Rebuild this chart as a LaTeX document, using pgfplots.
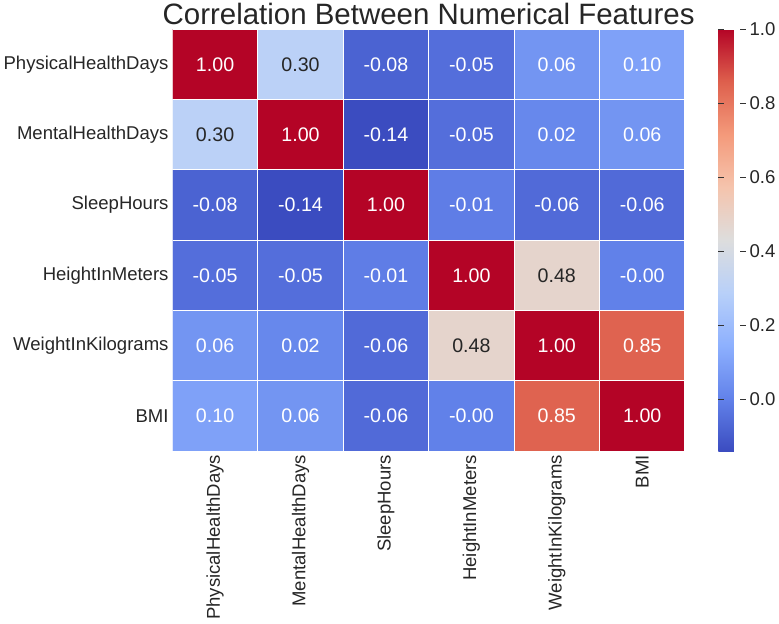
\documentclass[border=0pt]{standalone}
\usepackage{pgfplots}
\pgfplotsset{compat=1.18}
\usepackage{fontspec}
\setmainfont{Liberation Sans}
\pgfplotstableread{
x y v
0 0 1.00
1 0 0.30
2 0 -0.08
3 0 -0.05
4 0 0.06
5 0 0.10
0 1 0.30
1 1 1.00
2 1 -0.14
3 1 -0.05
4 1 0.02
5 1 0.06
0 2 -0.08
1 2 -0.14
2 2 1.00
3 2 -0.01
4 2 -0.06
5 2 -0.06
0 3 -0.05
1 3 -0.05
2 3 -0.01
3 3 1.00
4 3 0.48
5 3 -0.00
0 4 0.06
1 4 0.02
2 4 -0.06
3 4 0.48
4 4 1.00
5 4 0.85
0 5 0.10
1 5 0.06
2 5 -0.06
3 5 -0.00
4 5 0.85
5 5 1.00
}\data
\pgfplotstableread{
x y t
1 0 0.30
0 1 0.30
4 3 0.48
3 4 0.48
}\dark
\pgfplotstableread{
x y t
0 0 1.00
2 0 -0.08
3 0 -0.05
4 0 0.06
5 0 0.10
1 1 1.00
2 1 -0.14
3 1 -0.05
4 1 0.02
5 1 0.06
0 2 -0.08
1 2 -0.14
2 2 1.00
3 2 -0.01
4 2 -0.06
5 2 -0.06
0 3 -0.05
1 3 -0.05
2 3 -0.01
3 3 1.00
5 3 -0.00
0 4 0.06
1 4 0.02
2 4 -0.06
4 4 1.00
5 4 0.85
0 5 0.10
1 5 0.06
2 5 -0.06
3 5 -0.00
4 5 0.85
5 5 1.00
}\light
\begin{document}
\begin{tikzpicture}
\begin{axis}[
  scale only axis, width=470pt, height=387pt,
  y dir=reverse,
  xmin=-0.5, xmax=5.5, ymin=-0.5, ymax=5.5,
  xtick={0,...,5}, ytick={0,...,5},
  xticklabels={PhysicalHealthDays,MentalHealthDays,SleepHours,HeightInMeters,WeightInKilograms,BMI},
  yticklabels={PhysicalHealthDays,MentalHealthDays,SleepHours,HeightInMeters,WeightInKilograms,BMI},
  x tick label style={rotate=90, anchor=east},
  tick style={draw=none}, axis line style={draw=none},
  ticklabel style={font=\fontsize{17}{20}\selectfont, text=black!85},
  title={Correlation Between Numerical Features},
  title style={font=\fontsize{27}{30}\selectfont, yshift=-6pt, text=black!85},
  colormap={coolwarm}{rgb255(0)=(59,76,192) rgb255(1)=(98,130,234) rgb255(2)=(141,176,254) rgb255(3)=(184,208,249) rgb255(4)=(221,221,221) rgb255(5)=(245,196,173) rgb255(6)=(244,154,123) rgb255(7)=(222,96,77) rgb255(8)=(180,4,38)},
  point meta min=-0.14, point meta max=1.0,
  colorbar right,
  colorbar style={width=25pt, xshift=10pt, ytick={0,0.2,0.4,0.6,0.8,1.0},
    yticklabel style={font=\fontsize{17}{20}\selectfont, text=black!85, /pgf/number format/.cd, fixed, fixed zerofill, precision=1, assume math mode=true},
    axis line style={draw=none}, major tick length=5pt, tick style={draw=black!80, line width=0.7pt}},
]
\addplot[matrix plot*, mesh/cols=6, point meta=explicit, draw=white, line width=1pt] table[x=x,y=y,meta=v]{\data};
\addplot[only marks, mark=none, point meta=explicit symbolic, nodes near coords, nodes near coords style={anchor=center, text=black!85, font=\fontsize{18}{20}\selectfont}] table[x=x,y=y,meta=t]{\dark};
\addplot[only marks, mark=none, point meta=explicit symbolic, nodes near coords, nodes near coords style={anchor=center, text=white, font=\fontsize{18}{20}\selectfont}] table[x=x,y=y,meta=t]{\light};
\end{axis}
\end{tikzpicture}
\end{document}
